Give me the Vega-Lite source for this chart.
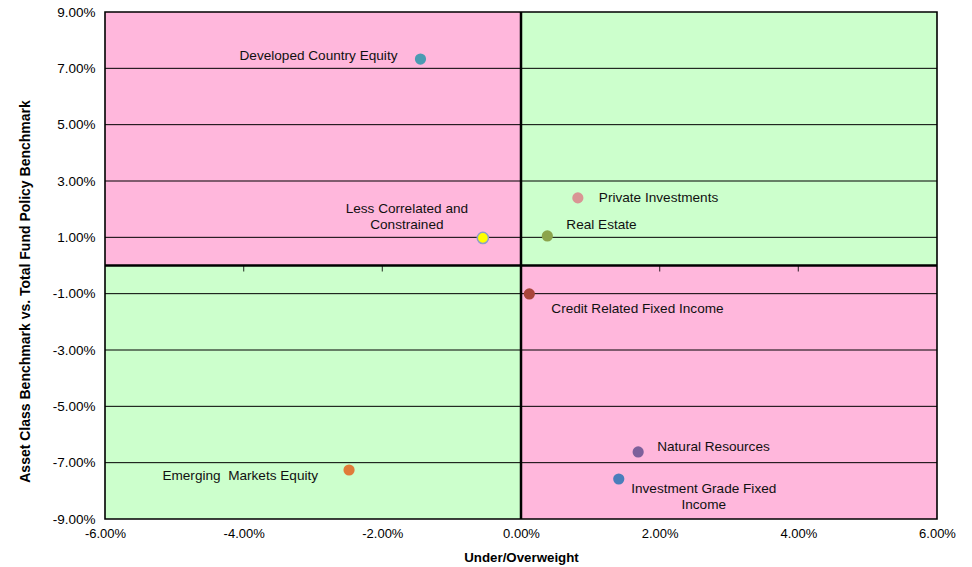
{
  "$schema": "https://vega.github.io/schema/vega-lite/v6.json",
  "width": 832,
  "height": 507,
  "autosize": {"type": "none"},
  "padding": {"left": 105, "top": 12, "right": 35, "bottom": 48},
  "background": "white",
  "config": {
    "view": {"stroke": null},
    "font": "Liberation Sans",
    "text": {"font": "Liberation Sans", "fontSize": 13.6, "color": "#111111", "lineBreak": "\n", "lineHeight": 16}
  },
  "resolve": {"scale": {"color": "independent"}},
  "datasets": {
    "points": [
      {"name": "Developed Country Equity", "x": -1.45, "y": 7.33, "label": "Developed Country Equity"},
      {"name": "Private Investments", "x": 0.82, "y": 2.40, "label": "Private Investments"},
      {"name": "Real Estate", "x": 0.38, "y": 1.05, "label": "Real Estate"},
      {"name": "Less Correlated and Constrained", "x": -0.55, "y": 0.98, "label": "Less Correlated and\nConstrained"},
      {"name": "Credit Related Fixed Income", "x": 0.12, "y": -1.01, "label": "Credit Related Fixed Income"},
      {"name": "Natural Resources", "x": 1.69, "y": -6.62, "label": "Natural Resources"},
      {"name": "Investment Grade Fixed Income", "x": 1.41, "y": -7.58, "label": "Investment Grade Fixed\nIncome"},
      {"name": "Emerging Markets Equity", "x": -2.48, "y": -7.26, "label": "Emerging\u00a0 Markets Equity"}
    ],
    "quadrants": [
      {"x1": -6, "x2": 0, "y1": 0, "y2": 9, "zone": "pink"},
      {"x1": 0, "x2": 6, "y1": 0, "y2": 9, "zone": "green"},
      {"x1": -6, "x2": 0, "y1": -9, "y2": 0, "zone": "green"},
      {"x1": 0, "x2": 6, "y1": -9, "y2": 0, "zone": "pink"}
    ],
    "grid": [{"v": -7}, {"v": -5}, {"v": -3}, {"v": -1}, {"v": 1}, {"v": 3}, {"v": 5}, {"v": 7}],
    "xticks": [{"v": -4}, {"v": -2}, {"v": 2}, {"v": 4}],
    "one": [{"k": 1}]
  },
  "layer": [
    {
      "data": {"name": "quadrants"},
      "mark": {"type": "rect"},
      "encoding": {
        "x": {
          "field": "x1", "type": "quantitative",
          "scale": {"domain": [-6, 6], "nice": false, "zero": false},
          "axis": {
            "values": [-6, -4, -2, 0, 2, 4, 6],
            "labelExpr": "replace(format(datum.value/100, '.2%'), '\u2212', '-')",
            "title": "Under/Overweight",
            "domain": false, "ticks": false, "tickSize": 0, "grid": false,
            "labelPadding": 8, "labelFontSize": 13, "labelColor": "#000000", "labelFont": "Liberation Sans",
            "labelFlush": false,
            "titleFont": "Liberation Sans", "titleFontSize": 13.3, "titleFontWeight": "bold", "titleColor": "#000000",
            "titleY": 38, "titleBaseline": "middle"
          }
        },
        "x2": {"field": "x2"},
        "y": {
          "field": "y1", "type": "quantitative",
          "scale": {"domain": [-9, 9], "nice": false, "zero": false},
          "axis": {
            "values": [-9, -7, -5, -3, -1, 1, 3, 5, 7, 9],
            "labelExpr": "replace(format(datum.value/100, '.2%'), '\u2212', '-')",
            "title": "Asset Class Benchmark vs. Total Fund Policy Benchmark",
            "domain": false, "ticks": false, "tickSize": 0, "grid": false,
            "labelPadding": 10, "labelFontSize": 13.5, "labelColor": "#000000", "labelFont": "Liberation Sans",
            "labelFlush": false,
            "titleFont": "Liberation Sans", "titleFontSize": 14, "titleFontWeight": "bold", "titleColor": "#000000",
            "titleX": -80, "titleY": 279, "titleAngle": -90, "titleBaseline": "middle", "titleAlign": "center"
          }
        },
        "y2": {"field": "y2"},
        "color": {
          "field": "zone", "type": "nominal",
          "scale": {"domain": ["pink", "green"], "range": ["#FFB7DC", "#CCFFCC"]},
          "legend": null
        }
      }
    },
    {
      "data": {"name": "grid"},
      "mark": {"type": "rule", "color": "#000000", "strokeWidth": 1},
      "encoding": {"y": {"field": "v", "type": "quantitative"}}
    },
    {
      "data": {"name": "one"},
      "mark": {"type": "rule", "color": "#000000", "strokeWidth": 2.5},
      "encoding": {"x": {"datum": 0}}
    },
    {
      "data": {"name": "one"},
      "mark": {"type": "rule", "color": "#000000", "strokeWidth": 2.5},
      "encoding": {"y": {"datum": 0}}
    },
    {
      "data": {"name": "xticks"},
      "mark": {"type": "tick", "orient": "vertical", "color": "#000000", "size": 6, "thickness": 1.2, "yOffset": 3},
      "encoding": {"x": {"field": "v", "type": "quantitative"}, "y": {"datum": 0}}
    },
    {
      "data": {"name": "one"},
      "mark": {"type": "rect", "fill": null, "stroke": "#000000", "strokeWidth": 1.6},
      "encoding": {"x": {"datum": -6}, "x2": {"datum": 6}, "y": {"datum": -9}, "y2": {"datum": 9}}
    },
    {
      "data": {"name": "points"},
      "mark": {"type": "point", "filled": true, "opacity": 1, "size": 125},
      "encoding": {
        "x": {"field": "x", "type": "quantitative"},
        "y": {"field": "y", "type": "quantitative"},
        "color": {
          "field": "name", "type": "nominal",
          "scale": {
            "domain": ["Developed Country Equity", "Private Investments", "Real Estate", "Less Correlated and Constrained", "Credit Related Fixed Income", "Natural Resources", "Investment Grade Fixed Income", "Emerging Markets Equity"],
            "range": ["#4A9BB2", "#D99594", "#8CA44C", "#FFFF00", "#A9453B", "#7D609B", "#4A7EBB", "#E07B39"]
          },
          "legend": null
        },
        "stroke": {"value": "#8EA0C8"},
        "strokeWidth": {
          "condition": {"test": "datum.name === 'Less Correlated and Constrained'", "value": 1.5},
          "value": 0
        }
      }
    },
    {
      "data": {"name": "points"},
      "transform": [{"filter": "datum.name === 'Developed Country Equity'"}],
      "mark": {"type": "text", "align": "right", "baseline": "middle", "dx": -23, "dy": -3},
      "encoding": {"x": {"field": "x", "type": "quantitative"}, "y": {"field": "y", "type": "quantitative"}, "text": {"field": "label"}}
    },
    {
      "data": {"name": "points"},
      "transform": [{"filter": "datum.name === 'Private Investments'"}],
      "mark": {"type": "text", "align": "left", "baseline": "middle", "dx": 21, "dy": 0},
      "encoding": {"x": {"field": "x", "type": "quantitative"}, "y": {"field": "y", "type": "quantitative"}, "text": {"field": "label"}}
    },
    {
      "data": {"name": "points"},
      "transform": [{"filter": "datum.name === 'Real Estate'"}],
      "mark": {"type": "text", "align": "left", "baseline": "middle", "dx": 19, "dy": -11},
      "encoding": {"x": {"field": "x", "type": "quantitative"}, "y": {"field": "y", "type": "quantitative"}, "text": {"field": "label"}}
    },
    {
      "data": {"name": "points"},
      "transform": [{"filter": "datum.name === 'Less Correlated and Constrained'"}],
      "mark": {"type": "text", "align": "center", "baseline": "middle", "dx": -76, "dy": -29},
      "encoding": {"x": {"field": "x", "type": "quantitative"}, "y": {"field": "y", "type": "quantitative"}, "text": {"field": "label"}}
    },
    {
      "data": {"name": "points"},
      "transform": [{"filter": "datum.name === 'Credit Related Fixed Income'"}],
      "mark": {"type": "text", "align": "left", "baseline": "middle", "dx": 22, "dy": 15},
      "encoding": {"x": {"field": "x", "type": "quantitative"}, "y": {"field": "y", "type": "quantitative"}, "text": {"field": "label"}}
    },
    {
      "data": {"name": "points"},
      "transform": [{"filter": "datum.name === 'Natural Resources'"}],
      "mark": {"type": "text", "align": "left", "baseline": "middle", "dx": 19, "dy": -5},
      "encoding": {"x": {"field": "x", "type": "quantitative"}, "y": {"field": "y", "type": "quantitative"}, "text": {"field": "label"}}
    },
    {
      "data": {"name": "points"},
      "transform": [{"filter": "datum.name === 'Investment Grade Fixed Income'"}],
      "mark": {"type": "text", "align": "center", "baseline": "middle", "dx": 85, "dy": 10},
      "encoding": {"x": {"field": "x", "type": "quantitative"}, "y": {"field": "y", "type": "quantitative"}, "text": {"field": "label"}}
    },
    {
      "data": {"name": "points"},
      "transform": [{"filter": "datum.name === 'Emerging Markets Equity'"}],
      "mark": {"type": "text", "align": "right", "baseline": "middle", "dx": -31, "dy": 6},
      "encoding": {"x": {"field": "x", "type": "quantitative"}, "y": {"field": "y", "type": "quantitative"}, "text": {"field": "label"}}
    }
  ]
}
